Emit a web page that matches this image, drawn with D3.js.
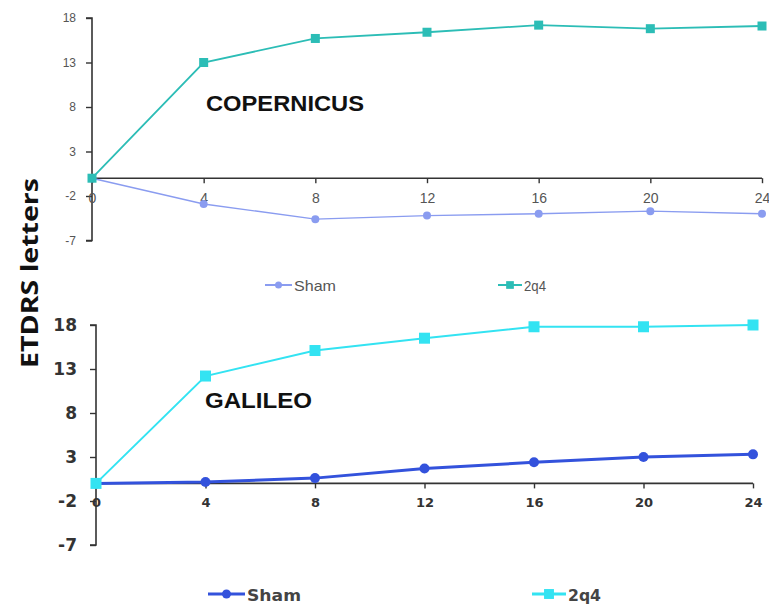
<!DOCTYPE html>
<html><head><meta charset="utf-8">
<script src="https://cdn.jsdelivr.net/npm/d3@7"></script>
<style>body{margin:0;background:#fff}svg{display:block}</style>
</head><body>
<div id="chart"></div>
<script>
const weeks = [0, 4, 8, 12, 16, 20, 24];
const yTicks = [18, 13, 8, 3, -2, -7];
const copShams = [0, -2.9, -4.6, -4.2, -4.0, -3.7, -4.0];
const cop2q4 = [0, 13.0, 15.7, 16.4, 17.2, 16.8, 17.1];
const galSham = [0, 0.15, 0.6, 1.7, 2.4, 3.0, 3.3];
const gal2q4 = [0, 12.2, 15.1, 16.5, 17.8, 17.8, 18.0];
const seriesNames = ["Sham", "2q4"];
const panelTitles = ["COPERNICUS", "GALILEO"];
const yLabel = "ETDRS letters";

const W = 769, H = 604;
const svg = d3.select("#chart").append("svg").attr("width", W).attr("height", H);
const fmt = d => String(d);

function panel(cfg) {
  const x = d3.scaleLinear().domain([0, 24]).range(cfg.xr);
  const y = d3.scaleLinear().domain([-7, 18]).range(cfg.yr);
  const g = svg.append("g");
  // y axis
  const ya = g.append("g").attr("transform", `translate(${cfg.xr[0]},0)`)
    .call(d3.axisLeft(y).tickValues(yTicks).tickSize(6).tickPadding(cfg.yPad).tickFormat(fmt));
  ya.select(".domain").attr("stroke", "#333").attr("stroke-width", 1.6).attr("d", `M-6,${y(18)}H0V${y(-7)}H-6`);
  ya.selectAll(".tick line").attr("stroke", "#333").attr("stroke-width", 1.4);
  ya.selectAll(".tick text").attr("fill", cfg.tickColor).style("font", cfg.yFont);
  // x axis at 0
  const xa = g.append("g").attr("transform", `translate(0,${y(0)})`)
    .call(d3.axisBottom(x).tickValues(weeks).tickSize(cfg.xTick).tickPadding(cfg.xPad).tickFormat(fmt));
  xa.select(".domain").attr("stroke", "#333").attr("stroke-width", 1.6).attr("d", `M${cfg.xr[0]},0H${cfg.xr[1]}`);
  xa.selectAll(".tick line").attr("stroke", "#333").attr("stroke-width", 1.4);
  xa.selectAll(".tick text").attr("fill", cfg.tickColor).style("font", cfg.xFont);

  const line = d3.line().x((d, i) => x(weeks[i])).y(d => y(d));
  // sham line + circles
  g.append("path").datum(cfg.sham).attr("d", line).attr("fill", "none")
    .attr("stroke", cfg.shamColor).attr("stroke-width", cfg.shamW);
  g.selectAll(null).data(cfg.sham).enter().append("circle")
    .attr("cx", (d, i) => x(weeks[i])).attr("cy", d => y(d)).attr("r", cfg.r).attr("fill", cfg.shamColor);
  // 2q4 line + squares
  g.append("path").datum(cfg.treat).attr("d", line).attr("fill", "none")
    .attr("stroke", cfg.treatColor).attr("stroke-width", cfg.treatW);
  g.selectAll(null).data(cfg.treat).enter().append("rect")
    .attr("x", (d, i) => x(weeks[i]) - cfg.sq / 2).attr("y", d => y(d) - cfg.sq / 2)
    .attr("width", cfg.sq).attr("height", cfg.sq).attr("fill", cfg.treatColor);
  // title
  g.append("text").attr("x", cfg.title[0]).attr("y", cfg.title[1]).text(cfg.titleText)
    .attr("textLength", cfg.title[2]).attr("lengthAdjust", "spacingAndGlyphs")
    .style("font", "bold 22px 'Liberation Sans', Arial, sans-serif").attr("fill", "#111");
  // legend
  const L = cfg.legend;
  [[L.sham, cfg.shamColor, "circle", seriesNames[0]], [L.treat, cfg.treatColor, "rect", seriesNames[1]]].forEach(([p, c, shape, name]) => {
    g.append("line").attr("x1", p[0]).attr("x2", p[1]).attr("y1", L.y).attr("y2", L.y)
      .attr("stroke", c).attr("stroke-width", L.lw);
    const cx = (p[0] + p[1]) / 2;
    if (shape === "circle") g.append("circle").attr("cx", cx).attr("cy", L.y).attr("r", L.r).attr("fill", c);
    else g.append("rect").attr("x", cx - L.r * 1.1).attr("y", L.y - L.r * 1.1).attr("width", L.r * 2.2).attr("height", L.r * 2.2).attr("fill", c);
    g.append("text").attr("x", p[1] + 2).attr("y", L.base).text(name)
      .attr("textLength", p[2]).attr("lengthAdjust", "spacingAndGlyphs")
      .style("font", L.font).attr("fill", L.color);
  });
}

panel({
  xr: [92, 762], yr: [240.5, 18],
  sham: copShams, treat: cop2q4,
  shamColor: "#8a9cf0", treatColor: "#2cbdb6", shamW: 1.4, treatW: 1.8, r: 4, sq: 9,
  tickColor: "#555", yPad: 10, xPad: 10, xTick: 5,
  yFont: "12px 'Liberation Sans Narrow', 'Liberation Sans', Arial, sans-serif",
  xFont: "14px 'Liberation Sans', Arial, sans-serif",
  title: [206, 111, 158], titleText: panelTitles[0],
  legend: { y: 285, sham: [265, 292, 42], treat: [498, 522, 22], lw: 2, r: 3.5, base: 291,
    font: "15px 'Liberation Sans', Arial, sans-serif", color: "#555" }
});

panel({
  xr: [96, 753], yr: [545, 325],
  sham: galSham, treat: gal2q4,
  shamColor: "#3352dc", treatColor: "#33e3f2", shamW: 3, treatW: 2, r: 5, sq: 11,
  tickColor: "#333", yPad: 13, xPad: 9, xTick: 5,
  yFont: "bold 17px 'DejaVu Sans', Verdana, sans-serif",
  xFont: "bold 13px 'DejaVu Sans', Verdana, sans-serif",
  title: [205, 408, 107], titleText: panelTitles[1],
  legend: { y: 594, sham: [208, 245, 54], treat: [532, 566, 33], lw: 3, r: 4.5, base: 601,
    font: "bold 16px 'DejaVu Sans', Verdana, sans-serif", color: "#444" }
});

svg.append("text").attr("transform", "translate(38,273) rotate(-90)")
  .attr("text-anchor", "middle").text(yLabel)
  .attr("textLength", 190).attr("lengthAdjust", "spacingAndGlyphs")
  .style("font", "bold 23px 'Open Sans', 'DejaVu Sans', sans-serif").attr("fill", "#111");
</script>
</body></html>
